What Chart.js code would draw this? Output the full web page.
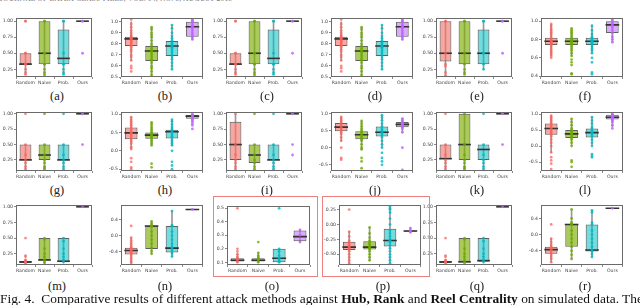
<!DOCTYPE html>
<html><head><meta charset="utf-8">
<script src="https://cdn.jsdelivr.net/npm/chart.js@4/dist/chart.umd.min.js"></script>
<style>
html,body{margin:0;padding:0;background:#fff;width:640px;height:305px;overflow:hidden;position:relative}
.pan{position:absolute}
.lab{position:absolute;font-family:"Liberation Serif",serif;font-size:12.5px;color:#222;text-align:center;width:40px}
.hdr{position:absolute;left:0;top:-6px;font-family:"Liberation Serif",serif;font-size:7.5px;color:#777;letter-spacing:0.2px;white-space:nowrap}
.cap{position:absolute;left:0;top:291px;font-family:"Liberation Serif",serif;font-size:13.4px;color:#111;white-space:nowrap}
.red{position:absolute;border:1.5px solid #f08080;box-sizing:border-box}
</style></head><body>
<div class="hdr">JOURNAL OF LATEX CLASS FILES, VOL. 14, NO. 8, AUGUST 2015</div>
<script>
const categories = ['Random','Naive','Prob.','Ours'];
const panelNames = ['(a)','(b)','(c)','(d)','(e)','(f)','(g)','(h)','(i)','(j)','(k)','(l)','(m)','(n)','(o)','(p)','(q)','(r)'];
const yMin = [0.13,0.5,0.13,0.5,0.13,0.39, 0.07,-0.55,0.07,-0.68,0.07,-0.78, 0.07,-0.73,0.08,-0.68,0.07,-0.75];
const yMax = [1.05,1.03,1.05,1.03,1.05,1.03, 1.03,1.05,1.03,1.03,1.03,1.05, 1.03,0.75,0.52,0.32,1.03,0.72];
const T4 = [0.25,0.5,0.75,1.0];
const yTicks = [T4,[0.5,0.6,0.7,0.8,0.9,1.0],T4,[0.5,0.6,0.7,0.8,0.9,1.0],T4,[0.4,0.6,0.8,1.0],
  T4,[-0.5,0,0.5,1.0],T4,[-0.5,0,0.5,1.0],T4,[-0.5,0,0.5,1.0],
  T4,[-0.4,0,0.4],[0.1,0.2,0.3,0.4,0.5],[-0.5,-0.25,0,0.25],T4,[-0.4,0,0.4]];
const tickDecimals = [2,1,2,1,2,1, 2,1,2,1,2,1, 2,1,1,2,2,1];
const q1 = [
 [0.33,0.33,0.33,1.0],[0.78,0.645,0.69,0.865],[0.33,0.33,0.33,1.0],[0.78,0.645,0.69,0.865],[0.37,0.33,0.33,1.0],[0.74,0.74,0.74,0.87],
 [0.25,0.25,0.25,1.0],[0.32,0.33,0.34,0.88],[0.25,0.2,0.25,1.0],[0.48,0.25,0.33,0.6],[0.27,0.25,0.25,1.0],[0.35,0.25,0.27,0.83],
 [0.1,0.15,0.12,1.0],[-0.47,-0.33,-0.42,0.65],[0.105,0.105,0.1,0.255],[-0.43,-0.42,-0.37,-0.12],[0.1,0.12,0.12,1.0],[-0.47,-0.3,-0.42,0.65]];
const median = [
 [0.33,0.5,0.42,1.0],[0.845,0.735,0.78,0.955],[0.33,0.5,0.42,1.0],[0.845,0.735,0.78,0.955],[0.5,0.5,0.5,1.0],[0.78,0.78,0.78,0.96],
 [0.25,0.33,0.25,1.0],[0.49,0.43,0.52,0.95],[0.5,0.33,0.25,1.0],[0.6,0.38,0.45,0.68],[0.27,0.5,0.42,1.0],[0.55,0.38,0.42,0.9],
 [0.12,0.15,0.13,1.0],[-0.37,0.24,-0.31,0.65],[0.115,0.115,0.13,0.29],[-0.38,-0.38,-0.27,-0.11],[0.12,0.12,0.14,1.0],[-0.37,0.25,-0.38,0.65]];
const q3 = [
 [0.5,1.0,0.87,1.0],[0.865,0.78,0.825,1.0],[0.5,1.0,0.87,1.0],[0.865,0.78,0.825,1.0],[1.0,1.0,0.87,1.0],[0.82,0.82,0.82,1.0],
 [0.5,0.5,0.5,1.0],[0.64,0.5,0.58,0.98],[0.87,0.5,0.5,1.0],[0.72,0.48,0.62,0.75],[0.5,1.0,0.5,1.0],[0.7,0.5,0.55,0.98],
 [0.13,0.5,0.5,1.0],[-0.3,0.24,0.24,0.65],[0.13,0.13,0.2,0.335],[-0.29,-0.28,-0.07,-0.1],[0.13,0.5,0.5,1.0],[-0.3,0.27,0.25,0.65]];
const whiskerLow = [
 [0.17,0.17,0.17,1.0],[0.65,0.5,0.57,0.84],[0.17,0.17,0.17,1.0],[0.65,0.5,0.57,0.84],[0.15,0.17,0.25,1.0],[0.62,0.62,0.65,0.77],
 [0.1,0.1,0.1,1.0],[0.05,0.15,0.15,0.8],[0.1,0.1,0.1,1.0],[0.2,-0.05,0.0,0.45],[0.1,0.1,0.1,1.0],[-0.2,0.0,0.0,0.6],
 [0.1,0.1,0.1,1.0],[-0.68,-0.45,-0.52,0.65],[0.1,0.1,0.1,0.25],[-0.65,-0.6,-0.65,-0.13],[0.1,0.1,0.1,1.0],[-0.68,-0.6,-0.55,0.65]];
const whiskerHigh = [
 [0.5,1.0,1.0,1.0],[1.0,0.95,0.97,1.02],[0.5,1.0,1.0,1.0],[1.0,0.95,0.97,1.02],[1.0,1.0,1.0,1.0],[0.96,0.92,0.95,1.02],
 [0.5,0.5,0.5,1.0],[0.92,0.78,0.85,1.0],[1.0,0.5,0.5,1.0],[0.9,0.78,0.95,0.85],[0.5,1.0,0.5,1.0],[0.95,0.85,0.9,1.0],
 [0.16,0.5,0.5,1.0],[-0.05,0.35,0.62,0.65],[0.16,0.17,0.2,0.34],[-0.12,-0.05,0.3,-0.06],[0.16,0.5,0.5,1.0],[-0.1,0.62,0.6,0.65]];
const ptsAC = [[1,1,0.5,0.5,0.33,0.33,0.25,0.2,0.17],[1,1,0.5,0.5,0.33,0.33,0.25,0.2,0.17,0.14],[1,1,0.5,0.33,0.33,0.25,0.2,0.17],[1,1,0.5]];
const ptsBD = [
 [1.02,0.98,0.95,0.92,0.9,0.88,0.87,0.86,0.85,0.85,0.84,0.83,0.82,0.81,0.8,0.79,0.78,0.77,0.75,0.73,0.7,0.68,0.65,0.6,0.58,0.55],
 [0.95,0.93,0.9,0.88,0.86,0.83,0.8,0.78,0.76,0.74,0.73,0.72,0.7,0.68,0.66,0.65,0.63,0.6,0.58,0.55,0.52,0.5],
 [0.97,0.94,0.9,0.87,0.85,0.83,0.81,0.8,0.79,0.78,0.77,0.76,0.74,0.72,0.7,0.68,0.66,0.63,0.6,0.57],
 [1.02,1.01,1.0,0.99,0.97,0.96,0.95,0.94,0.92,0.9,0.88,0.86,0.84]];
const ptsGIK = [[1,0.5,0.33,0.25,0.2,0.14,0.1],[1,0.5,0.33,0.25,0.2,0.14,0.12,0.1],[1,0.5,0.33,0.25,0.2,0.14,0.1]];
const ptsMQ = [[0.5,0.22,0.2,0.15,0.13,0.12,0.11,0.1],[0.5,0.48,0.33,0.25,0.2,0.15,0.12,0.1],[0.5,0.45,0.33,0.25,0.2,0.15,0.12],[1]];
const points = [
 ptsAC, ptsBD, ptsAC, ptsBD,
 [[1,1,0.5,0.33,0.3,0.2,0.15],[1,1,0.5,0.33,0.25,0.2,0.17],[1,1,0.5,0.5,0.33,0.25],[1,1,0.5]],
 [[0.97,0.95,0.92,0.9,0.88,0.86,0.84,0.82,0.8,0.79,0.78,0.77,0.76,0.75,0.74,0.72,0.7,0.68,0.66,0.64,0.62,0.6],
  [0.92,0.9,0.88,0.86,0.84,0.82,0.8,0.79,0.78,0.77,0.76,0.75,0.74,0.72,0.7,0.68,0.65,0.62,0.58,0.55,0.52,0.43,0.42],
  [0.95,0.9,0.86,0.83,0.82,0.8,0.79,0.78,0.77,0.76,0.75,0.74,0.72,0.7,0.68,0.65,0.6,0.55,0.44,0.42],
  [1.02,1.0,0.98,0.96,0.95,0.93,0.9,0.87,0.83,0.8,0.77]],
 [ptsGIK[0],ptsGIK[1],ptsGIK[2],[1,1,0.5]],
 [[0.92,0.85,0.8,0.75,0.7,0.65,0.6,0.55,0.5,0.48,0.45,0.4,0.35,0.3,0.25,0.2,0.1,0.05,-0.2,-0.3,-0.45,-0.5],
  [0.78,0.72,0.65,0.6,0.55,0.5,0.48,0.45,0.43,0.4,0.38,0.35,0.3,0.25,0.2,0.15,-0.35,-0.45],
  [0.85,0.8,0.72,0.65,0.6,0.56,0.52,0.5,0.45,0.4,0.36,0.3,0.25,0.2,0.15,0.0,-0.3,-0.4,-0.5],
  [1.0,0.98,0.96,0.95,0.93,0.9,0.88,0.85,0.8,0.75,0.7,0.6]],
 [ptsGIK[0],ptsGIK[0],ptsGIK[2],[1,1,0.5,0.33]],
 [[0.9,0.85,0.8,0.75,0.7,0.65,0.6,0.55,0.5,0.45,0.4,0.3,0.2,0.0,-0.3,-0.35],
  [0.78,0.7,0.62,0.55,0.5,0.45,0.4,0.36,0.32,0.28,0.25,0.2,0.1,0.0,-0.05,-0.3,-0.4,-0.6],
  [0.95,0.88,0.8,0.7,0.62,0.55,0.5,0.45,0.4,0.35,0.3,0.2,0.1,0.0,-0.15,-0.3,-0.4,-0.5],
  [0.85,0.8,0.75,0.72,0.7,0.68,0.65,0.6,0.55,0.45,0.0,-0.65]],
 [ptsGIK[0],ptsGIK[1],ptsGIK[2],[1,1,0.5]],
 [[0.95,0.9,0.85,0.8,0.75,0.7,0.65,0.6,0.55,0.5,0.45,0.4,0.35,0.3,0.2,0.1,0.0,-0.2,-0.35,-0.45,-0.55,-0.72],
  [0.85,0.75,0.65,0.55,0.5,0.45,0.4,0.38,0.35,0.3,0.25,0.2,0.1,0.0,-0.45,-0.5,-0.65],
  [0.9,0.8,0.7,0.6,0.55,0.5,0.45,0.42,0.4,0.35,0.3,0.2,0.1,0.0,-0.25,-0.3,-0.35],
  [1.0,0.98,0.96,0.95,0.92,0.9,0.88,0.85,0.8,0.75,0.65,0.55]],
 ptsMQ,
 [[0.24,-0.05,-0.12,-0.18,-0.22,-0.27,-0.3,-0.33,-0.35,-0.37,-0.4,-0.42,-0.45,-0.5,-0.55,-0.6,-0.65,-0.68],
  [0.35,0.3,0.26,0.24,0.22,0.1,0.0,-0.1,-0.2,-0.3,-0.38,-0.45],
  [0.61,0.26,0.24,0.1,0.0,-0.1,-0.2,-0.28,-0.31,-0.35,-0.4,-0.45,-0.52],
  [0.65]],
 [[0.5,0.2,0.18,0.16,0.14,0.13,0.12,0.11,0.1],[0.25,0.17,0.15,0.14,0.13,0.12,0.11,0.1],[0.5,0.2,0.18,0.15,0.13,0.12,0.11,0.1],[0.34,0.3,0.25]],
 [[0.25,-0.12,-0.2,-0.27,-0.3,-0.33,-0.36,-0.38,-0.4,-0.42,-0.45,-0.5,-0.55,-0.6,-0.65],
  [-0.05,-0.15,-0.22,-0.27,-0.3,-0.33,-0.36,-0.38,-0.4,-0.42,-0.45,-0.5,-0.55,-0.6],
  [0.3,0.27,0.25,0.2,0.1,0.0,-0.1,-0.15,-0.2,-0.25,-0.27,-0.3,-0.35,-0.4,-0.45,-0.5,-0.55,-0.6,-0.65],
  [-0.06,-0.1,-0.11,-0.13]],
 ptsMQ,
 [[0.25,-0.1,-0.18,-0.25,-0.3,-0.33,-0.36,-0.4,-0.45,-0.5,-0.55,-0.6,-0.68],
  [0.62,0.4,0.3,0.27,0.25,0.1,0.0,-0.1,-0.2,-0.3,-0.4,-0.5,-0.6],
  [0.6,0.55,0.3,0.25,0.1,0.0,-0.1,-0.2,-0.3,-0.38,-0.42,-0.48,-0.55],
  [0.65]]
];

// layout (frame positions in page pixels)
const colL = [16,121,226,331,436,541];
const colR = [98,209,308,419,518,629];
const rowT = [13,107,200];
const rowB = [77,171,265];
const row3L = [16,121,227,339,436,541];
const row3R = [98,209,317,427,518,629];
const labelY = [89,183,279];
const boxFill = ['rgba(248,118,109,0.65)','rgba(124,174,0,0.65)','rgba(0,191,196,0.55)','rgba(199,124,255,0.65)'];
const dotCol = ['rgba(248,100,95,0.75)','rgba(110,170,0,0.8)','rgba(0,185,195,0.8)','rgba(190,100,255,0.85)'];

const framePlugin = {
  id:'frame',
  afterDraw(chart){
    const a = chart.chartArea, c = chart.ctx;
    c.save(); c.strokeStyle='#6b6b6b'; c.lineWidth=1;
    c.strokeRect(Math.round(a.left)+0.5, Math.round(a.top)+0.5, Math.round(a.right-a.left)-1, Math.round(a.bottom-a.top)-1);
    c.restore();
  }
};

const AXW = 18, AXH = 11, PT = 3, PR = 2;
for (let p = 0; p < 18; p++) {
  const r = Math.floor(p/6), col = p%6;
  const L = r===2 ? row3L[col] : colL[col];
  const R = r===2 ? row3R[col] : colR[col];
  const T = rowT[r], B = rowB[r];
  const div = document.createElement('div');
  div.className='pan';
  const W = R - L + AXW + PR, H = B - T + AXH + PT;
  div.style.left = (L-AXW)+'px'; div.style.top=(T-PT)+'px';
  div.style.width=W+'px'; div.style.height=H+'px';
  const cv = document.createElement('canvas');
  cv.width=W; cv.height=H;
  div.appendChild(cv); document.body.appendChild(div);

  const lab = document.createElement('div');
  lab.className='lab'; lab.textContent=panelNames[p];
  lab.style.left=((L+R)/2-20)+'px'; lab.style.top=labelY[r]+'px';
  document.body.appendChild(lab);

  const boxHalf = (R-L)/4*0.62/2;
  const dots = [];
  points[p].forEach((arr,i)=>arr.forEach(v=>dots.push({x:categories[i],y:v})));
  const dotColors = [];
  points[p].forEach((arr,i)=>arr.forEach(()=>dotColors.push(dotCol[i])));
  const dec = tickDecimals[p];

  new Chart(cv, {
    type:'bar',
    data:{
      labels:categories,
      datasets:[
        {type:'line', data:dots, showLine:false, pointRadius:1.4, pointBorderWidth:0,
         pointBackgroundColor:dotColors, pointBorderColor:dotColors, order:0},
        {type:'line', data:median[p], showLine:false, pointStyle:'line', pointRadius:boxHalf,
         pointBorderWidth:1.6, pointBorderColor:'#333', order:1},
        {type:'bar', data:q1[p].map((v,i)=>[v,q3[p][i]]), grouped:false, backgroundColor:boxFill,
         borderColor:'#5f5f5f', borderWidth:1, borderSkipped:false, barPercentage:0.62, categoryPercentage:1, order:2},
        {type:'bar', data:whiskerLow[p].map((v,i)=>[v,whiskerHigh[p][i]]), grouped:false, backgroundColor:'#999',
         borderWidth:0, barThickness:1, order:3}
      ]
    },
    options:{
      responsive:false, animation:false, devicePixelRatio:1,
      layout:{padding:{top:PT,right:PR,left:0,bottom:0}},
      plugins:{legend:{display:false},tooltip:{enabled:false}},
      scales:{
        x:{offset:true, grid:{display:true, drawOnChartArea:false, tickLength:2, color:'#888'}, border:{display:false},
           ticks:{font:{family:'DejaVu Sans',size:4.6}, color:'#444', padding:1, maxRotation:0, autoSkip:false},
           afterFit:s=>{s.height=AXH;}},
        y:{min:yMin[p], max:yMax[p], grid:{display:true, drawOnChartArea:false, tickLength:2, color:'#888'}, border:{display:false},
           afterBuildTicks:s=>{s.ticks=yTicks[p].map(v=>({value:v}));},
           ticks:{font:{family:'DejaVu Sans',size:4.6}, color:'#444', padding:1, callback:v=>Number(v).toFixed(dec)},
           afterFit:s=>{s.width=AXW;}}
      }
    },
    plugins:[framePlugin]
  });
}
// red highlight boxes around (o) and (p)
[[213,196,105,81],[322,196,108,81]].forEach(b=>{
  const d=document.createElement('div'); d.className='red';
  d.style.left=b[0]+'px'; d.style.top=b[1]+'px'; d.style.width=b[2]+'px'; d.style.height=b[3]+'px';
  document.body.appendChild(d);
});
const cap=document.createElement('div'); cap.className='cap';
cap.innerHTML='Fig. 4.&nbsp; Comparative results of different attack methods against <b>Hub, Rank</b> and <b>Reel Centrality</b> on simulated data. The';
document.body.appendChild(cap);
</script>
</body></html>
